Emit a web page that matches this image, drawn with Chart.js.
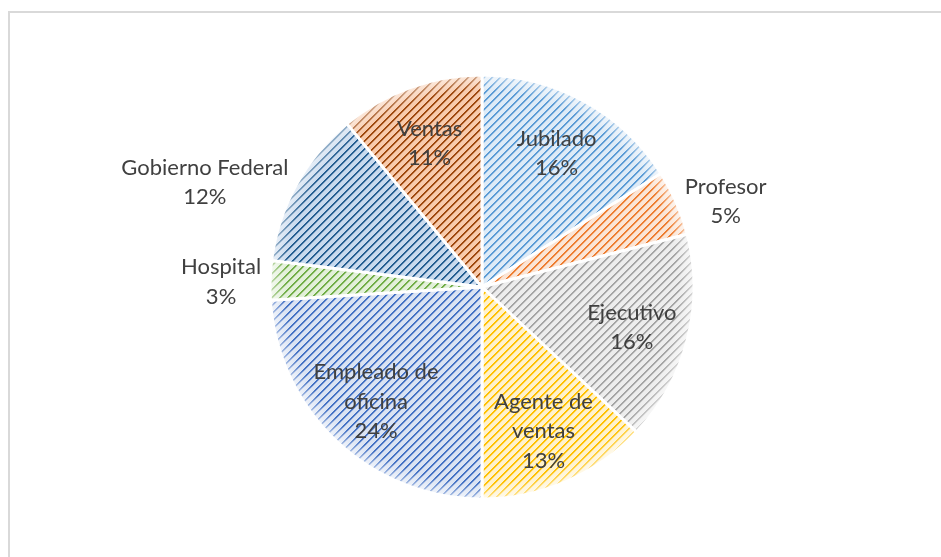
<!DOCTYPE html>
<html>
<head>
<meta charset="utf-8">
<script src="https://cdn.jsdelivr.net/npm/chart.js@4.4.0/dist/chart.umd.min.js"></script>
<style>
  html, body { margin: 0; padding: 0; background: #fff; overflow: hidden; }
</style>
</head>
<body>
<canvas id="grafica" width="941" height="557"></canvas>
<script>
// datos del grafico
const categorias = ['Jubilado', 'Profesor', 'Ejecutivo', 'Agente de ventas', 'Empleado de oficina', 'Hospital', 'Gobierno Federal', 'Ventas']
const porcentajes = [16, 5, 16, 13, 24, 3, 12, 11]
const etiquetasFuera = [false, true, false, false, false, true, true, false]

// colores de la trama (linea) y del fondo de cada porcion
const coloresTrama = ['#5B9BD5', '#ED7D31', '#A5A5A5', '#FFC000', '#4472C4', '#70AD47', '#255E91', '#9E480E']
const coloresFondo = ['#DEEBF7', '#FBE5D6', '#EDEDED', '#FFF2CC', '#DAE3F3', '#E2F0D9', '#C9DAEE', '#F8CBAD']

const tamFuente = 22
const interlinea = 29.5
const canvas = document.getElementById('grafica')
const ctx = canvas.getContext('2d')

function trama(fg, bg) {
    const c = document.createElement('canvas')
    c.width = 8
    c.height = 8
    const g = c.getContext('2d')
    g.fillStyle = bg
    g.fillRect(0, 0, 8, 8)
    for (let y = 0; y < 8; y++) {
        for (let x = 0; x < 8; x++) {
            const k = (x + y) % 8
            if (k < 2) {
                g.globalAlpha = 1
            } else if (k == 2) {
                g.globalAlpha = 0.3
            } else {
                continue
            }
            g.fillStyle = fg
            g.fillRect(x, y, 1, 1)
        }
    }
    return ctx.createPattern(c, 'repeat')
}

const rellenos = coloresTrama.map((c, i) => trama(c, coloresFondo[i]))

function envolver(c, texto, maximo) {
    const palabras = texto.split(' ')
    const lineas = []
    let actual = ''
    palabras.forEach(p => {
        const prueba = actual ? actual + ' ' + p : p
        if (actual && c.measureText(prueba).width > maximo) {
            lineas.push(actual)
            actual = p
        } else {
            actual = prueba
        }
    })
    if (actual) lineas.push(actual)
    return lineas
}

// marco gris alrededor del grafico
const pluginMarco = {
    id: 'marco',
    beforeDraw(chart) {
        const c = chart.ctx
        c.save()
        c.strokeStyle = '#D9D9D9'
        c.lineWidth = 2
        c.strokeRect(9, 12, 1000, 1000)
        c.restore()
    }
}

// borde suave de las porciones
const pluginBordeSuave = {
    id: 'bordeSuave',
    afterDatasetsDraw(chart) {
        const arc = chart.getDatasetMeta(0).data[0]
        const {x, y, outerRadius} = arc.getProps(['x', 'y', 'outerRadius'], true)
        const c = chart.ctx
        c.save()
        const grad = c.createRadialGradient(x, y, outerRadius - 16, x, y, outerRadius)
        grad.addColorStop(0, 'rgba(255,255,255,0)')
        grad.addColorStop(1, 'rgba(255,255,255,0.6)')
        c.fillStyle = grad
        c.beginPath()
        c.arc(x, y, outerRadius, 0, Math.PI * 2)
        c.fill()
        c.restore()
    }
}

const pluginEtiquetas = {
    id: 'etiquetas',
    afterDatasetsDraw(chart) {
        const c = chart.ctx
        const arcs = chart.getDatasetMeta(0).data
        c.save()
        c.font = tamFuente + 'px Lato'
        c.fillStyle = '#404040'
        c.textAlign = 'center'
        c.textBaseline = 'middle'
        arcs.forEach((arc, i) => {
            const {x, y, startAngle, endAngle, outerRadius} = arc.getProps(['x', 'y', 'startAngle', 'endAngle', 'outerRadius'], true)
            const medio = (startAngle + endAngle) / 2
            const pct = porcentajes[i] + '%'
            let lineas, cx, cy
            if (etiquetasFuera[i]) {
                lineas = [categorias[i], pct]
                const ancho = Math.max(...lineas.map(l => c.measureText(l).width))
                const ax = x + Math.cos(medio) * (outerRadius + 9)
                cy = y + Math.sin(medio) * (outerRadius + 9)
                cx = Math.cos(medio) >= 0 ? ax + ancho / 2 : ax - ancho / 2
            } else {
                lineas = envolver(c, categorias[i], 140).concat(pct)
                cx = x + Math.cos(medio) * outerRadius * 0.73
                cy = y + Math.sin(medio) * outerRadius * 0.73
            }
            const alto = interlinea * lineas.length
            lineas.forEach((l, k) => {
                c.fillText(l, cx, cy - alto / 2 + interlinea * (k + 0.5) + 2)
            })
        })
        c.restore()
    }
}

new Chart(canvas, {
    type: 'pie',
    data: {
        labels: categorias,
        datasets: [{
            data: porcentajes,
            backgroundColor: rellenos,
            borderColor: '#FFFFFF',
            borderWidth: 3
        }]
    },
    options: {
        responsive: false,
        animation: false,
        radius: 212,
        layout: { padding: { left: 23, top: 17, right: 0, bottom: 0 } },
        plugins: {
            legend: { display: false },
            tooltip: { enabled: false }
        }
    },
    plugins: [pluginMarco, pluginBordeSuave, pluginEtiquetas]
})
</script>
</body>
</html>
